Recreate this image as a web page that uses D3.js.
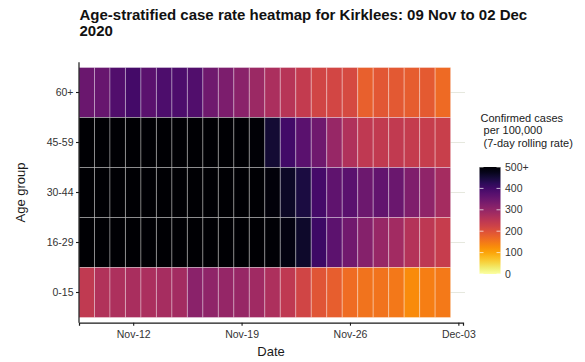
<!DOCTYPE html>
<html><head><meta charset="utf-8">
<script src="https://cdn.jsdelivr.net/npm/d3@7"></script>
<style>
body{margin:0;background:#fff}
svg{display:block;font-family:"Liberation Sans",Arial,Helvetica,sans-serif}
</style>
</head><body>
<svg id="chart" width="585" height="362"></svg>
<script>
// ---------- data ----------
const dates = ["2020-11-09","2020-11-10","2020-11-11","2020-11-12","2020-11-13","2020-11-14",
  "2020-11-15","2020-11-16","2020-11-17","2020-11-18","2020-11-19","2020-11-20",
  "2020-11-21","2020-11-22","2020-11-23","2020-11-24","2020-11-25","2020-11-26",
  "2020-11-27","2020-11-28","2020-11-29","2020-11-30","2020-12-01","2020-12-02"];
const ageGroups = ["60+","45-59","30-44","16-29","0-15"];
// 7-day rolling case rate per 100,000 (values of 500 mean 500+)
const rate60plus = [350,355,382,398,370,385,385,382,345,330,312,290,270,255,240,220,218,212,178,190,188,183,186,165];
const rate45to59 = [500,500,500,500,500,500,500,500,500,500,500,495,455,400,370,345,295,265,245,242,242,238,236,232];
const rate30to44 = [500,500,500,500,500,500,500,500,500,500,500,500,492,465,445,395,365,370,348,360,350,325,305,278];
const rate16to29 = [500,500,500,500,500,500,500,500,500,500,500,500,495,485,462,405,368,342,318,295,282,258,248,235];
const rate0to15  = [243,262,268,272,270,277,280,312,305,298,295,285,268,245,220,195,180,163,155,155,150,128,142,147];
const seriesByGroup = {"60+":rate60plus,"45-59":rate45to59,"30-44":rate30to44,"16-29":rate16to29,"0-15":rate0to15};
const xTickDates = ["2020-11-12","2020-11-19","2020-11-26","2020-12-03"];
const legendTicks = [0,100,200,300,400,500];
const legendTickLabels = ["0","100","200","300","400","500+"];
const titleLines = ["Age-stratified case rate heatmap for Kirklees: 09 Nov to 02 Dec","2020"];
const legendTitle = ["Confirmed cases"," per 100,000"," (7-day rolling rate)"];

// ---------- setup ----------
const svg = d3.select("#chart");
const parse = d3.utcParse("%Y-%m-%d");
const DAY = 864e5;
const cells = [];
ageGroups.forEach(g => seriesByGroup[g].forEach((v,i) => cells.push({group:g, date:parse(dates[i]), value:v})));

const panel = {left:79, right:463, top:62.3, bottom:322.7};
const first = parse(dates[0]), last = parse(dates[dates.length-1]);
const x = d3.scaleUtc()
  .domain([new Date(+first - 0.5*DAY), new Date(+last + 1.3*DAY)])
  .range([panel.left, panel.right]);
const y = d3.scaleBand().domain(ageGroups).range([67.5, 317.5]).padding(0);
const color = d3.scaleSequential(t => d3.interpolateInferno(1 - t)).domain([0,500]).clamp(true);

// gridlines (horizontal, at each age group)
svg.append("g").selectAll("line").data(ageGroups).join("line")
  .attr("x1", panel.left).attr("x2", panel.right + 2)
  .attr("y1", d => y(d) + y.bandwidth()/2).attr("y2", d => y(d) + y.bandwidth()/2)
  .attr("stroke", "#e6e8de").attr("stroke-width", 1.2);

// tiles
svg.append("g").selectAll("rect").data(cells).join("rect")
  .attr("x", d => x(new Date(+d.date - 0.5*DAY)))
  .attr("width", d => x(new Date(+d.date + 0.5*DAY)) - x(new Date(+d.date - 0.5*DAY)))
  .attr("y", d => y(d.group))
  .attr("height", y.bandwidth())
  .attr("fill", d => color(d.value))
  .attr("stroke", "rgba(255,255,255,0.33)")
  .attr("stroke-width", 1);

// x axis
const xAxis = svg.append("g").attr("transform", `translate(0,${panel.bottom})`)
  .call(d3.axisBottom(x).tickValues(xTickDates.map(parse)).tickFormat(d3.utcFormat("%b-%d")).tickSizeOuter(0).tickSize(3));
xAxis.select(".domain").attr("stroke", "#1a1a1a").attr("stroke-width", 1.2);
xAxis.selectAll(".tick line").attr("stroke", "#1a1a1a").attr("stroke-width", 1.1);
xAxis.selectAll(".tick text").attr("font-size", 10.5).attr("fill", "#333").attr("font-family", "Liberation Sans, Arial, sans-serif").attr("dy", "0.9em");

// y axis
const yAxis = svg.append("g").attr("transform", `translate(${panel.left},0)`)
  .call(d3.axisLeft(y).tickSizeOuter(0).tickSize(3));
yAxis.select(".domain").attr("d", `M0,${panel.top}V${panel.bottom}`).attr("stroke", "#1a1a1a").attr("stroke-width", 1.2);
yAxis.selectAll(".tick line").attr("stroke", "#1a1a1a").attr("stroke-width", 1.1);
yAxis.selectAll(".tick text").attr("font-size", 10.5).attr("fill", "#333").attr("font-family", "Liberation Sans, Arial, sans-serif").attr("x", -5.5);

// axis titles
svg.append("text").attr("x", (panel.left + panel.right)/2).attr("y", 356)
  .attr("text-anchor", "middle").attr("font-size", 13).attr("fill", "#1a1a1a").text("Date");
svg.append("text").attr("transform", `translate(25,${(panel.top + panel.bottom)/2}) rotate(-90)`)
  .attr("text-anchor", "middle").attr("font-size", 13).attr("fill", "#1a1a1a").text("Age group");

// title
svg.append("g").selectAll("text").data(titleLines).join("text")
  .attr("x", 79.5).attr("y", (d,i) => 19.5 + i*16.3)
  .attr("font-size", 15).attr("font-weight", "bold").attr("fill", "#111").text(d => d);

// legend
const lg = svg.append("g");
lg.selectAll("text.lt").data(legendTitle).join("text").attr("class","lt")
  .attr("x", 480.5).attr("y", (d,i) => 121.5 + i*12.5)
  .attr("font-size", 11).attr("fill", "#1a1a1a").attr("xml:space","preserve")
  .style("white-space","pre").text(d => d);

const barX = 479.5, barW = 21;
const ly = d3.scaleLinear().domain([0,500]).range([274,167]);
const defs = svg.append("defs");
const grad = defs.append("linearGradient").attr("id","lgGrad").attr("x1","0").attr("y1","1").attr("x2","0").attr("y2","0");
d3.range(0, 1.0001, 0.05).forEach(t => grad.append("stop").attr("offset", t).attr("stop-color", color(t*500)));
lg.append("rect").attr("x", barX).attr("y", ly(500)).attr("width", barW).attr("height", ly(0) - ly(500)).attr("fill", "url(#lgGrad)");
lg.selectAll("line.tl").data(legendTicks).join("line").attr("class","tl")
  .attr("x1", barX).attr("x2", barX + 4).attr("y1", d => ly(d)).attr("y2", d => ly(d))
  .attr("stroke", "rgba(255,255,255,0.7)").attr("stroke-width", 1);
lg.selectAll("line.tr").data(legendTicks).join("line").attr("class","tr")
  .attr("x1", barX + barW - 4).attr("x2", barX + barW).attr("y1", d => ly(d)).attr("y2", d => ly(d))
  .attr("stroke", "rgba(255,255,255,0.7)").attr("stroke-width", 1);
lg.selectAll("text.tk").data(legendTicks).join("text").attr("class","tk")
  .attr("x", 505).attr("y", d => ly(d)).attr("dy", "0.35em")
  .attr("font-size", 10.5).attr("fill", "#333").text((d,i) => legendTickLabels[i]);
</script>
</body></html>
